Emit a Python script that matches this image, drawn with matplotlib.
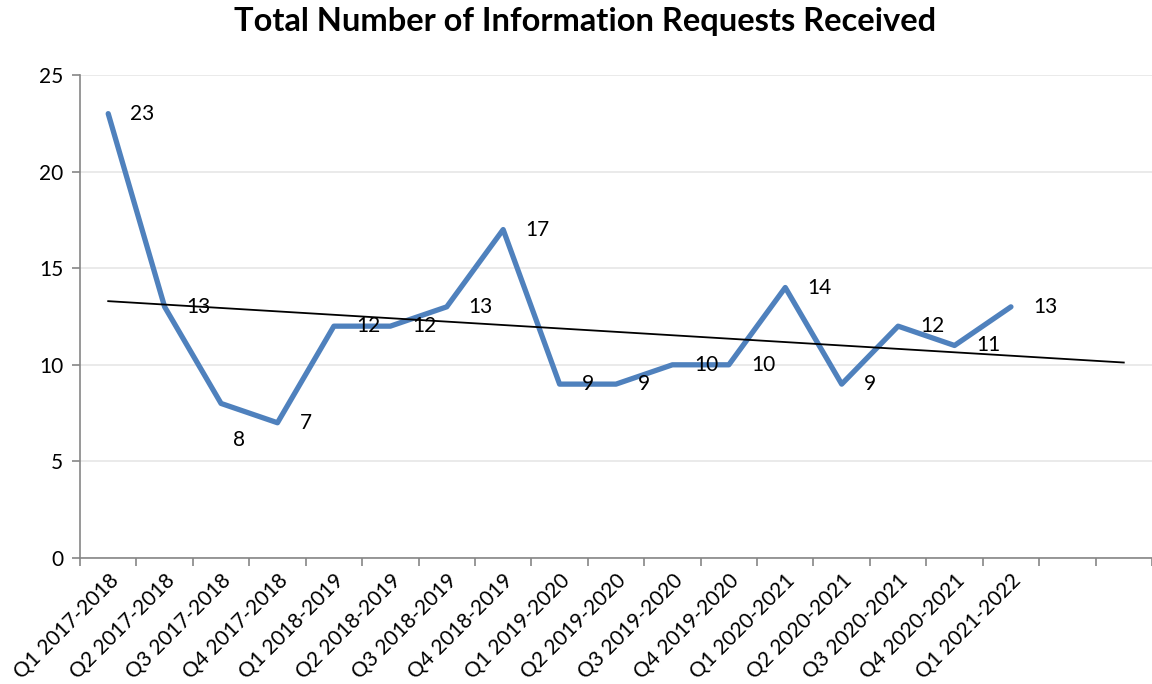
import numpy as np
import matplotlib.pyplot as plt

# Data
quarters = ['Q1 2017-2018', 'Q2 2017-2018', 'Q3 2017-2018', 'Q4 2017-2018',
            'Q1 2018-2019', 'Q2 2018-2019', 'Q3 2018-2019', 'Q4 2018-2019',
            'Q1 2019-2020', 'Q2 2019-2020', 'Q3 2019-2020', 'Q4 2019-2020',
            'Q1 2020-2021', 'Q2 2020-2021', 'Q3 2020-2021', 'Q4 2020-2021',
            'Q1 2021-2022']
requests = [23, 13, 8, 7, 12, 12, 13, 17, 9, 9, 10, 10, 14, 9, 12, 11, 13]
n_slots = 19  # axis has two empty category slots after the data

plt.rcParams['font.family'] = ['Lato', 'DejaVu Sans']

fig = plt.figure(figsize=(11.52, 6.84), dpi=100)
ax = fig.add_axes([80 / 1152, 1 - 558 / 684, 1 - 80 / 1152, (558 - 75) / 684])

x = np.arange(len(requests))
ax.plot(x, requests, color='#4F81BD', lw=3.8, solid_capstyle='round', zorder=3)

# linear trend line, extended across all slots
slope, icpt = np.polyfit(x, requests, 1)
xt = np.array([0, n_slots - 1])
ax.plot(xt, slope * xt + icpt, color='black', lw=1.3, zorder=4)

# data labels
for i, v in enumerate(requests):
    dx, dy = 22, 0
    if i == 2:
        dx, dy = 12, -37
    ax.annotate(str(v), (i, v), xytext=(dx * 0.72, dy * 0.72), textcoords='offset points',
                ha='left', va='center', fontsize=15, zorder=5)

ax.set_xlim(-0.5, n_slots - 0.5)
ax.set_ylim(0, 25)
ax.set_yticks(range(0, 26, 5))
ax.grid(axis='y', color='#E6E6E6', lw=1.2)
ax.set_axisbelow(True)

ax.set_xticks(x)
ax.set_xticklabels(quarters, rotation=45, ha='right', rotation_mode='anchor', fontsize=15)
ax.set_xticks(np.arange(-0.5, n_slots, 1), minor=True)
ax.tick_params(axis='x', which='major', length=0, pad=9)
ax.tick_params(axis='x', which='minor', length=6, color='#868686', width=1.2)
ax.tick_params(axis='y', length=6, color='#868686', width=1.2, labelsize=15, pad=6)

for s in ['top', 'right']:
    ax.spines[s].set_visible(False)
for s in ['left', 'bottom']:
    ax.spines[s].set_color('#868686')
    ax.spines[s].set_linewidth(1.2)

fig.suptitle('Total Number of Information Requests Received', fontsize=23.5,
             fontweight='bold', x=585 / 1152, y=1 - 22 / 684, va='center')

fig.savefig('out.png', dpi=100)
